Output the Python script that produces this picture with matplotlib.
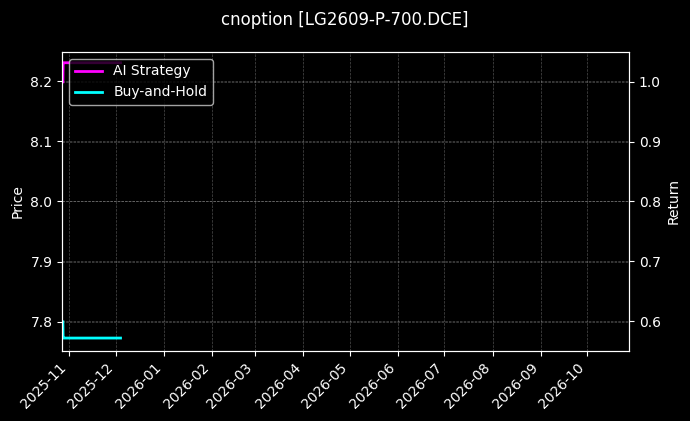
import matplotlib
matplotlib.use("Agg")
import matplotlib.pyplot as plt
import matplotlib.dates as mdates
import pandas as pd

# data (first bar, then daily closes)
dates = [pd.Timestamp("2025-10-28 00:00")] + list(
    pd.date_range("2025-10-28 04:00", "2025-12-04 04:00", freq="D"))
price = [7.800] + [7.773] * (len(dates) - 1)
strategy = [1.0] + [1.032] * (len(dates) - 1)

title = "cnoption [LG2609-P-700.DCE]"

plt.style.use("dark_background")
fig, ax1 = plt.subplots(figsize=(6.9, 4.21), dpi=100)
fig.subplots_adjust(left=0.09, right=0.9116, top=0.8765, bottom=0.1663)

ax2 = ax1.twinx()
l2, = ax1.plot(dates, price, color="cyan", lw=2, label="Buy-and-Hold")
l1, = ax2.plot(dates, strategy, color="magenta", lw=2, label="AI Strategy")

ax1.set_ylim(7.7515, 8.2485)
ax2.set_ylim(0.55, 1.05)
ax1.set_xlim(pd.Timestamp("2025-10-27 12:00"), pd.Timestamp("2026-10-28"))

ax1.set_ylabel("Price")
ax2.set_ylabel("Return")

ax1.xaxis.set_major_locator(mdates.MonthLocator())
ax1.xaxis.set_major_formatter(mdates.DateFormatter("%Y-%m"))
plt.setp(ax1.get_xticklabels(), rotation=45, ha="right")

ax1.grid(True, linestyle="--", linewidth=0.5, alpha=0.3)
ax2.grid(True, linestyle="--", linewidth=0.5, alpha=0.3)

ax2.legend([l1, l2], ["AI Strategy", "Buy-and-Hold"], loc="upper left")

fig.suptitle(title, y=0.975)
fig.savefig("out.png")
